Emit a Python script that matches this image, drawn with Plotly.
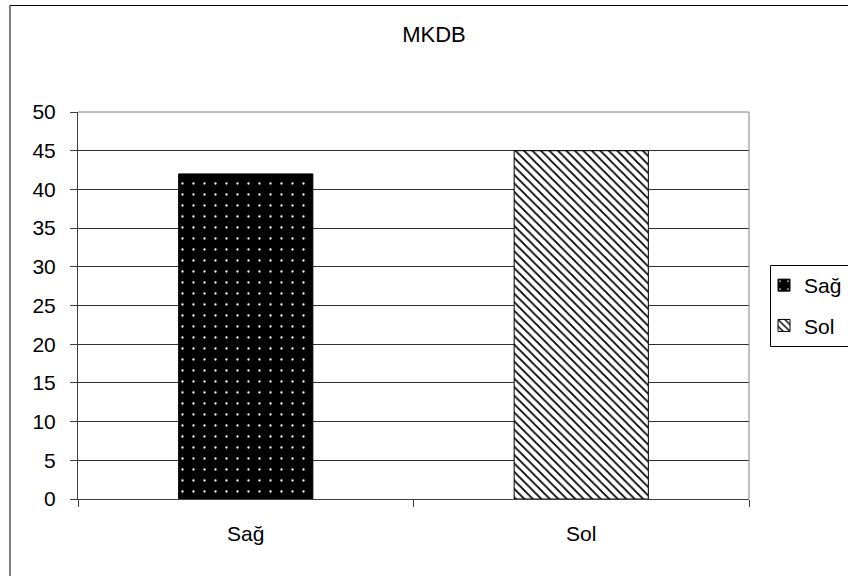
import plotly.graph_objects as go

# Chart data
categories = ["Sağ", "Sol"]
values_sag = [42]
values_sol = [45]
y_ticks = [0, 5, 10, 15, 20, 25, 30, 35, 40, 45, 50]

FONT = "Liberation Sans, Arial, sans-serif"
FS = 21

W, H = 848, 576
ML, MR, MT, MB = 78, 99, 112, 77
plot_w = W - ML - MR
plot_h = H - MT - MB


def px_to_paper_x(px):
    return (px - ML) / plot_w


def px_to_paper_y(py):
    return (H - MB - py) / plot_h


fig = go.Figure()

fig.add_trace(go.Bar(
    x=[categories[0]], y=values_sag, name="Sağ",
    legendgroup="a",
    width=0.4,
    marker=dict(
        color="black",
        line=dict(color="black", width=1),
        pattern=dict(shape=".", fgcolor="white", bgcolor="black",
                     size=11, solidity=0.035, fillmode="replace"),
    ),
))
fig.add_trace(go.Bar(
    x=[categories[1]], y=values_sol, name="Sol",
    legendgroup="b",
    width=0.4,
    marker=dict(
        color="white",
        line=dict(color="black", width=1),
        pattern=dict(shape="\\", fgcolor="black", bgcolor="white",
                     size=6, solidity=0.3, fillmode="replace"),
    ),
))

# Outer chart frame, running off the right and bottom edges
fig.add_shape(type="rect", xref="paper", yref="paper",
              x0=px_to_paper_x(10), x1=px_to_paper_x(870),
              y0=px_to_paper_y(600), y1=px_to_paper_y(5.5),
              line=dict(color="black", width=1), fillcolor="rgba(0,0,0,0)",
              layer="above")
# Legend frame
fig.add_shape(type="rect", xref="paper", yref="paper",
              x0=px_to_paper_x(770.5), x1=px_to_paper_x(870),
              y0=px_to_paper_y(346.5), y1=px_to_paper_y(265.5),
              line=dict(color="black", width=1), fillcolor="rgba(0,0,0,0)",
              layer="above")
# Grey top and right edges of the plot area
fig.add_shape(type="line", xref="paper", yref="paper", x0=0, x1=1, y0=1, y1=1,
              line=dict(color="#808080", width=1), layer="above")
fig.add_shape(type="line", xref="paper", yref="paper", x0=1, x1=1, y0=0, y1=1,
              line=dict(color="#808080", width=1), layer="above")

fig.update_layout(
    width=W, height=H,
    margin=dict(l=ML, r=MR, t=MT, b=MB, pad=0, autoexpand=False),
    paper_bgcolor="white", plot_bgcolor="white",
    font=dict(family=FONT, size=FS, color="black"),
    title=dict(text="MKDB", x=px_to_paper_x(434), xref="paper", xanchor="center",
               y=(H - 34) / H, yref="container", yanchor="middle",
               font=dict(family=FONT, size=22, color="black")),
    showlegend=True,
    legend=dict(
        x=px_to_paper_x(764), y=px_to_paper_y(265),
        xanchor="left", yanchor="top",
        borderwidth=0, bgcolor="rgba(0,0,0,0)",
        font=dict(family=FONT, size=FS, color="black"),
        traceorder="grouped", tracegroupgap=10,
        itemwidth=30,
    ),
)

fig.update_xaxes(
    type="category",
    showgrid=False, zeroline=False,
    showline=True, linecolor="#404040", linewidth=1,
    ticks="outside", tickson="boundaries", ticklen=7, tickcolor="#404040",
    ticklabelstandoff=16,
    tickfont=dict(family=FONT, size=FS, color="black"),
)
fig.update_yaxes(
    range=[0, 50], tickvals=y_ticks,
    showgrid=True, gridcolor="#303030", gridwidth=1,
    zeroline=False,
    showline=True, linecolor="#404040", linewidth=1,
    ticks="outside", ticklen=7, tickcolor="#404040",
    ticklabelstandoff=10,
    tickfont=dict(family=FONT, size=FS, color="black"),
)

fig.write_html("out.html")
